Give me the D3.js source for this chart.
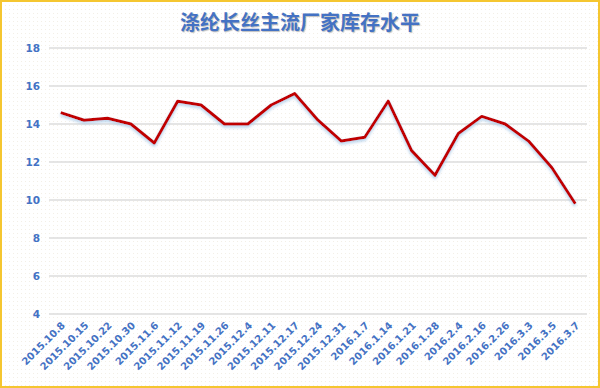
<!DOCTYPE html>
<html>
<head>
<meta charset="utf-8">
<script src="https://cdn.jsdelivr.net/npm/d3@7"></script>
<style>
  html, body { margin: 0; padding: 0; background: #fff; }
  svg { display: block; }
</style>
</head>
<body>
<div id="chart"></div>
<script>
// dates (category axis)
const dates = [
  "2015.10.8", "2015.10.15", "2015.10.22", "2015.10.30", "2015.11.6",
  "2015.11.12", "2015.11.19", "2015.11.26", "2015.12.4", "2015.12.11",
  "2015.12.17", "2015.12.24", "2015.12.31", "2016.1.7", "2016.1.14",
  "2016.1.21", "2016.1.28", "2016.2.4", "2016.2.16", "2016.2.26",
  "2016.3.3", "2016.3.5", "2016.3.7"
];
// inventory level (days)
const inventory = [
  14.6, 14.2, 14.3, 14.0, 13.0,
  15.2, 15.0, 14.0, 14.0, 15.0,
  15.6, 14.2, 13.1, 13.3, 15.2,
  12.6, 11.3, 13.5, 14.4, 14.0,
  13.1, 11.7, 9.8
];
const yTicks = [4, 6, 8, 10, 12, 14, 16, 18];
const title = "涤纶长丝主流厂家库存水平";

const width = 600, height = 388;
const margin = { top: 48, right: 13, bottom: 74, left: 49 };
const innerW = width - margin.left - margin.right;
const innerH = height - margin.top - margin.bottom;
const blue = "#4472c4";
const font = "'Noto Sans CJK SC', 'DejaVu Sans', sans-serif";
const numFont = "'DejaVu Sans', sans-serif";

const svg = d3.select("#chart").append("svg")
  .attr("width", width)
  .attr("height", height);

// dotted background
const defs = svg.append("defs");
const pat = defs.append("pattern")
  .attr("id", "dots")
  .attr("width", 4).attr("height", 4)
  .attr("patternUnits", "userSpaceOnUse");
pat.append("rect").attr("width", 4).attr("height", 4).attr("fill", "#fff");
pat.append("rect").attr("x", 1).attr("y", 1).attr("width", 1).attr("height", 1).attr("fill", "#f3efe6");

const shadow = defs.append("filter").attr("id", "glow")
  .attr("x", "-10%").attr("y", "-10%").attr("width", "120%").attr("height", "130%");
shadow.append("feGaussianBlur").attr("in", "SourceAlpha").attr("stdDeviation", 1.5).attr("result", "b");
shadow.append("feOffset").attr("in", "b").attr("dy", 2).attr("result", "o");
shadow.append("feFlood").attr("flood-color", "#9dc3e6").attr("flood-opacity", 0.8);
shadow.append("feComposite").attr("in2", "o").attr("operator", "in").attr("result", "s");
const merge = shadow.append("feMerge");
merge.append("feMergeNode").attr("in", "s");
merge.append("feMergeNode").attr("in", "SourceGraphic");

svg.append("rect")
  .attr("x", 1).attr("y", 1)
  .attr("width", width - 2).attr("height", height - 2)
  .attr("fill", "url(#dots)")
  .attr("stroke", "#f5c630")
  .attr("stroke-width", 2);

// title
svg.append("text")
  .attr("x", 300)
  .attr("y", 30)
  .attr("text-anchor", "middle")
  .attr("font-family", font)
  .attr("font-size", "20px")
  .attr("font-weight", "bold")
  .attr("fill", blue)
  .style("text-shadow", "1px 1px 1px rgba(0,0,0,0.25)")
  .text(title);

const g = svg.append("g")
  .attr("transform", `translate(${margin.left},${margin.top})`);

const x = d3.scaleBand()
  .domain(dates)
  .range([0, innerW]);

const y = d3.scaleLinear()
  .domain([4, 18])
  .range([innerH, 0]);

// grid lines
g.append("g")
  .selectAll("line")
  .data(yTicks)
  .enter()
  .append("line")
  .attr("x1", 0)
  .attr("x2", innerW)
  .attr("y1", d => y(d))
  .attr("y2", d => y(d))
  .attr("stroke", "#dcdcdc")
  .attr("stroke-width", 1.5);

// y axis labels
const yAxis = d3.axisLeft(y).tickValues(yTicks).tickSize(0).tickPadding(9);
g.append("g")
  .call(yAxis)
  .call(s => s.select(".domain").remove())
  .selectAll("text")
  .attr("font-family", numFont)
  .attr("font-size", "10.5px")
  .attr("font-weight", "bold")
  .attr("fill", blue);

// x axis labels
const xAxis = d3.axisBottom(x).tickSize(0).tickPadding(0);
g.append("g")
  .attr("transform", `translate(0,${innerH})`)
  .call(xAxis)
  .call(s => s.select(".domain").remove())
  .selectAll("text")
  .attr("font-family", numFont)
  .attr("font-size", "10px")
  .attr("font-weight", "bold")
  .attr("fill", blue)
  .attr("text-anchor", "end")
  .attr("dy", 0)
  .attr("transform", "translate(5,12) rotate(-45)");

// line
const line = d3.line()
  .x((d, i) => x(dates[i]) + x.bandwidth() / 2)
  .y(d => y(d));

g.append("path")
  .datum(inventory)
  .attr("d", line)
  .attr("fill", "none")
  .attr("stroke", "#c00000")
  .attr("stroke-width", 3)
  .attr("stroke-linejoin", "round")
  .attr("filter", "url(#glow)");
</script>
</body>
</html>
